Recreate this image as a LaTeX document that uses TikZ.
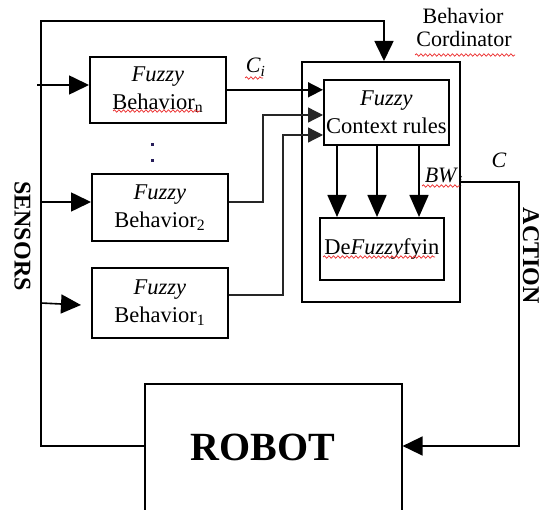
\documentclass[tikz,border=0pt]{standalone}
\usepackage{fontspec}
\setmainfont{Liberation Serif}
\usetikzlibrary{arrows.meta,decorations.pathmorphing}
\definecolor{dotc}{RGB}{40,30,90}
\definecolor{wavyred}{RGB}{235,35,35}
\begin{document}
\begin{tikzpicture}[x=1pt,y=-1pt,line width=1.6pt,
  box/.style={draw, line width=1.6pt, inner sep=0pt, anchor=north west, align=center,
    font=\fontsize{22.5}{28}\selectfont},
  lbl/.style={inner sep=0pt, font=\fontsize{22}{26}\selectfont},
  side/.style={inner sep=0pt, rotate=-90, font=\fontsize{24}{24}\selectfont\bfseries},
  bigarr/.style={-{Triangle[length=20pt,width=19pt]}},
  downarr/.style={-{Triangle[length=22pt,width=19pt]}},
  midarr/.style={-{Triangle[length=15pt,width=15pt]}},
  thinline/.style={line width=1.3pt, draw=black!85},
  wav/.style={draw=wavyred, line width=0.7pt, decorate,
    decoration={snake, amplitude=1.2pt, segment length=4.5pt}}]
\useasboundingbox (0,0) rectangle (543,510);
\clip (0,0) rectangle (543,510);

% boxes
\node[box, minimum width=136pt, minimum height=66pt] (bn) at (89,56) {\textit{Fuzzy}\\Behavior\textsubscript{n}};
\node[box, minimum width=136pt, minimum height=67pt] (b2) at (91,173) {\textit{Fuzzy}\\Behavior\textsubscript{2}};
\node[box, minimum width=136pt, minimum height=70pt] (b1) at (91,267) {\textit{Fuzzy}\\Behavior\textsubscript{1}};
\node[box, minimum width=158pt, minimum height=240pt] (coord) at (301,61) {};
\node[box, minimum width=125pt, minimum height=65pt] (ctx) at (323,79) {\textit{Fuzzy}\\Context rules};
\node[box, minimum width=124pt, minimum height=62pt] (df) at (319,217) {De\textit{Fuzzy}fyin};
\node[box, minimum width=257pt, minimum height=129pt] (robot) at (144,383) {};
\node[inner sep=0pt, font=\fontsize{40}{48}\selectfont\bfseries] (robottxt) at (263,447.5) {ROBOT};

% sensor arrows
\coordinate (sn) at (37,85);
\draw[bigarr] (sn) -- (sn -| bn.west);
\coordinate (s2) at (41,202);
\draw[bigarr] (s2) -- (s2 -| b2.west);
\coordinate (s1) at (41,303);
\coordinate (s1t) at (81,305);
\draw[bigarr] (s1) -- (s1t);

% feedback loop (left / top)
\coordinate (lc) at (41,446);
\coordinate (tl) at (41,21);
\coordinate (tr) at (384,21);
\draw[bigarr] (robot.west |- lc) -- (lc) -- (tl) -- (tr) -- (tr |- coord.north);

% action (right)
\coordinate (bw) at (519,182);
\draw[bigarr] (coord.east |- bw) -- (bw) -- (bw |- lc) -- (robot.east |- lc);

% behaviour outputs
\draw[midarr] (bn.east) -- (bn.east -| ctx.west);
\coordinate (k2a) at (263,202);
\coordinate (k2b) at (263,115);
\draw[thinline, midarr] (k2a -| b2.east) -- (k2a) -- (k2b) -- (k2b -| ctx.west);
\coordinate (k1a) at (283,295);
\coordinate (k1b) at (283,135);
\draw[thinline, midarr] (k1a -| b1.east) -- (k1a) -- (k1b) -- (k1b -| ctx.west);

% context rules to defuzzifier
\coordinate (p1) at (337,0);
\coordinate (p2) at (377,0);
\coordinate (p3) at (419,0);
\draw[downarr] (p1 |- ctx.south) -- (p1 |- df.north);
\draw[downarr] (p2 |- ctx.south) -- (p2 |- df.north);
\draw[downarr] (p3 |- ctx.south) -- (p3 |- df.north);

% labels
\node[lbl, anchor=base west] (ci) at (245,73) {\textit{C}\textsubscript{\textit{i}}};
\node[lbl, anchor=base] (cl) at (499,168) {\textit{C}};
\node[lbl, anchor=base west] (bwl) at (424,183) {\textit{BW}\textsubscript{\textit{i}}};
\node[lbl, anchor=base] (bc1) at (463,24) {Behavior};
\node[lbl, anchor=base] (bc2) at (464,47) {Cordinator};
\node[side] (sens) at (22.5,236) {SENSORS};
\node[side] (act) at (531,256) {ACTION};

% dots
\fill[dotc] (150.5,143.5) rectangle (153.5,146.5);
\fill[dotc] (150.5,159.5) rectangle (153.5,162.5);

% spell-check underlines
\draw[wav] (113,111) -- (200,111);
\draw[wav] (245,78) -- (263,78);
\draw[wav] (415,55) -- (515,55);
\draw[wav] (323,257) -- (435,257);
\draw[wav] (422,186) -- (460,186);
\end{tikzpicture}
\end{document}
